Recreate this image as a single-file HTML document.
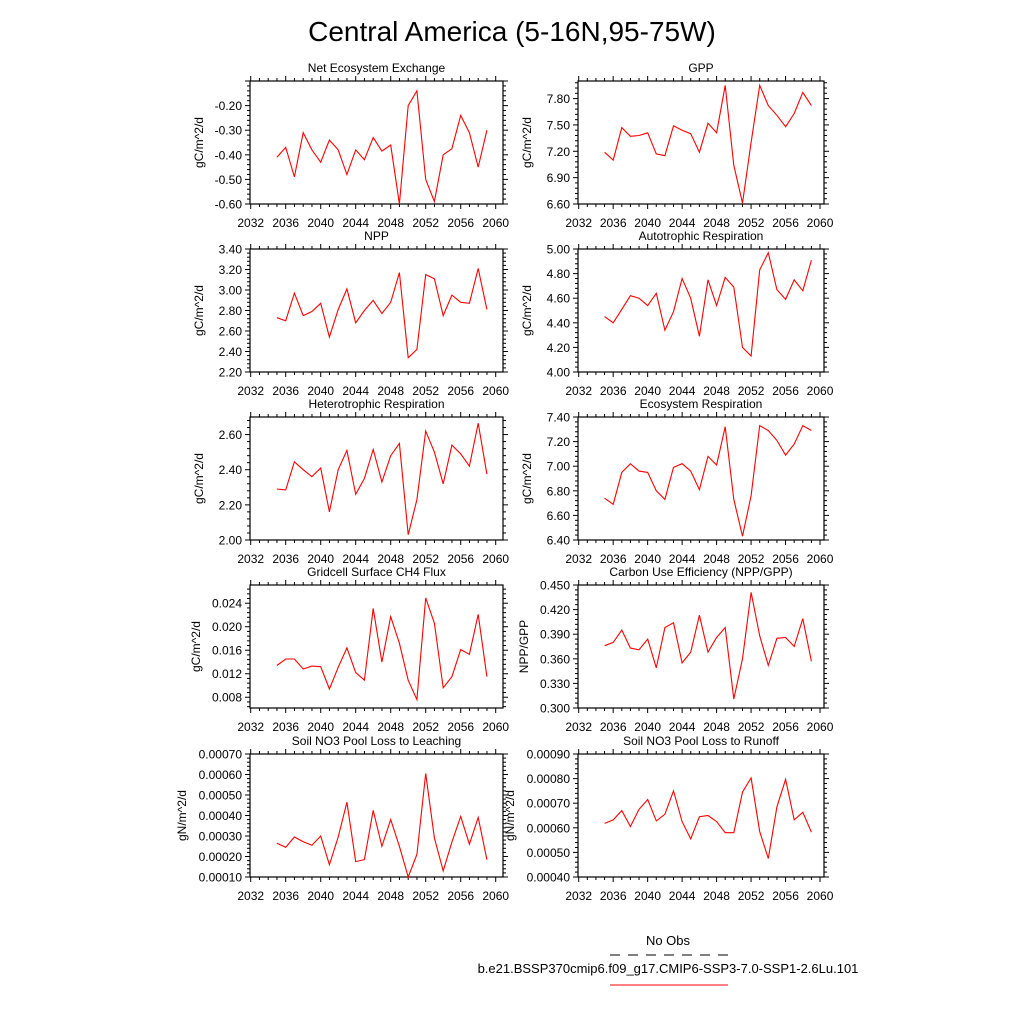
<!DOCTYPE html>
<html><head><meta charset="utf-8"><style>
body{margin:0;background:#fff;}
svg{display:block;font-family:"Liberation Sans",sans-serif;}
</style></head><body>
<svg id="chart" width="1024" height="1024" viewBox="0 0 1024 1024">
<text x="512" y="41" font-size="28" text-anchor="middle">Central America (5-16N,95-75W)</text>
<g>
<text x="668" y="945" font-size="13" text-anchor="middle">No Obs</text>
<line x1="610" y1="955" x2="728" y2="955" stroke="#000" stroke-width="1" stroke-dasharray="10,8"/>
<text x="668" y="973" font-size="13" text-anchor="middle">b.e21.BSSP370cmip6.f09_g17.CMIP6-SSP3-7.0-SSP1-2.6Lu.101</text>
<line x1="610" y1="985" x2="728" y2="985" stroke="#ff0000" stroke-width="1"/>
</g>
</svg>
<script>
const years = [2035,2036,2037,2038,2039,2040,2041,2042,2043,2044,2045,2046,2047,2048,2049,2050,2051,2052,2053,2054,2055,2056,2057,2058,2059];
const xTicks = [2032,2036,2040,2044,2048,2052,2056,2060];
const neeValues = [-0.41,-0.37,-0.49,-0.31,-0.38,-0.43,-0.34,-0.38,-0.48,-0.38,-0.42,-0.33,-0.385,-0.36,-0.60,-0.20,-0.14,-0.50,-0.59,-0.40,-0.375,-0.24,-0.31,-0.45,-0.30];
const gppValues = [7.19,7.10,7.47,7.37,7.38,7.41,7.17,7.15,7.49,7.44,7.40,7.19,7.52,7.41,7.95,7.04,6.61,7.30,7.95,7.72,7.61,7.48,7.63,7.87,7.72];
const nppValues = [2.73,2.70,2.97,2.75,2.79,2.87,2.54,2.81,3.01,2.68,2.80,2.90,2.77,2.88,3.17,2.34,2.42,3.15,3.11,2.75,2.95,2.88,2.87,3.21,2.81];
const arValues = [4.45,4.40,4.51,4.62,4.60,4.54,4.64,4.34,4.49,4.76,4.60,4.29,4.75,4.54,4.77,4.69,4.20,4.13,4.83,4.97,4.67,4.59,4.75,4.66,4.91];
const hrValues = [2.29,2.285,2.445,2.40,2.36,2.41,2.16,2.40,2.51,2.26,2.35,2.515,2.33,2.48,2.55,2.03,2.23,2.62,2.50,2.32,2.54,2.49,2.42,2.665,2.375];
const erValues = [6.74,6.69,6.95,7.02,6.96,6.95,6.80,6.73,6.99,7.02,6.96,6.81,7.08,7.01,7.32,6.73,6.43,6.76,7.33,7.29,7.21,7.09,7.18,7.33,7.29];
const ch4Values = [0.0134,0.0145,0.0145,0.0128,0.0133,0.0132,0.0094,0.0131,0.0164,0.0122,0.0109,0.0231,0.0140,0.0217,0.0172,0.0109,0.0076,0.0249,0.0206,0.0096,0.0115,0.0161,0.0153,0.0221,0.0115];
const cueValues = [0.376,0.380,0.395,0.373,0.371,0.384,0.349,0.398,0.404,0.355,0.368,0.413,0.368,0.386,0.398,0.311,0.360,0.441,0.388,0.352,0.385,0.386,0.375,0.409,0.357];
const leachValues = [0.000265,0.000245,0.000295,0.000272,0.000255,0.000300,0.000160,0.000295,0.000465,0.000175,0.000185,0.000425,0.000250,0.000380,0.000250,0.000100,0.000210,0.000605,0.000290,0.000130,0.000270,0.000395,0.000260,0.000390,0.000185];
const runoffValues = [0.000618,0.000632,0.000670,0.000605,0.000675,0.000715,0.000628,0.000655,0.000750,0.000625,0.000555,0.000645,0.000650,0.000625,0.000580,0.000580,0.000745,0.000803,0.000585,0.000475,0.000685,0.000797,0.000632,0.000663,0.000582];

const NS = 'http://www.w3.org/2000/svg';
const svg = document.getElementById('chart');
function mk(tag, attrs, parent){const e=document.createElementNS(NS,tag);for(const k in attrs)e.setAttribute(k,attrs[k]);parent.appendChild(e);return e;}

const panels = [
 {id:'nee',title:'Net Ecosystem Exchange',yl:'gC/m^2/d',v:neeValues,ymin:-0.6,ymax:-0.1,t0:-0.6,t1:-0.2,step:0.1,dec:2,col:0,row:0},
 {id:'gpp',title:'GPP',yl:'gC/m^2/d',v:gppValues,ymin:6.6,ymax:8.0,t0:6.6,t1:7.8,step:0.3,dec:2,col:1,row:0},
 {id:'npp',title:'NPP',yl:'gC/m^2/d',v:nppValues,ymin:2.2,ymax:3.4,t0:2.2,t1:3.4,step:0.2,dec:2,col:0,row:1},
 {id:'ar',title:'Autotrophic Respiration',yl:'gC/m^2/d',v:arValues,ymin:4.0,ymax:5.0,t0:4.0,t1:5.0,step:0.2,dec:2,col:1,row:1},
 {id:'hr',title:'Heterotrophic Respiration',yl:'gC/m^2/d',v:hrValues,ymin:2.0,ymax:2.7,t0:2.0,t1:2.6,step:0.2,dec:2,col:0,row:2},
 {id:'er',title:'Ecosystem Respiration',yl:'gC/m^2/d',v:erValues,ymin:6.4,ymax:7.4,t0:6.4,t1:7.4,step:0.2,dec:2,col:1,row:2},
 {id:'ch4',title:'Gridcell Surface CH4 Flux',yl:'gC/m^2/d',v:ch4Values,ymin:0.00617,ymax:0.0271,t0:0.008,t1:0.024,step:0.004,dec:3,col:0,row:3},
 {id:'cue',title:'Carbon Use Efficiency (NPP/GPP)',yl:'NPP/GPP',v:cueValues,ymin:0.3,ymax:0.45,t0:0.3,t1:0.45,step:0.03,dec:3,col:1,row:3},
 {id:'leach',title:'Soil NO3 Pool Loss to Leaching',yl:'gN/m^2/d',v:leachValues,ymin:0.0001,ymax:0.0007,t0:0.0001,t1:0.0007,step:0.0001,dec:5,col:0,row:4},
 {id:'runoff',title:'Soil NO3 Pool Loss to Runoff',yl:'gN/m^2/d',v:runoffValues,ymin:0.0004,ymax:0.0009,t0:0.0004,t1:0.0009,step:0.0001,dec:5,col:1,row:4}
];
const tops=[81,249,417,585,754], H=123;
const lefts=[250,578], W=[253,246];

panels.forEach(p=>{
 const L=lefts[p.col], T=tops[p.row], w=W[p.col], B=T+H, R=L+w;
 const x0 = L+0.7;
 const xs = y => x0 + (y-2032)*8.75*(p.col?0.985:1);
 const ys = v => B - (v-p.ymin)/(p.ymax-p.ymin)*H;
 const g = mk('g',{},svg);
 
 
 // minor x ticks
 for(let y=2032;y<=2060;y++){
  const x=xs(y), len=(y%4===0)?5:3;
  mk('line',{x1:x,y1:B,x2:x,y2:B+len,stroke:'#000','stroke-width':1},g);
  mk('line',{x1:x,y1:T,x2:x,y2:T-len,stroke:'#000','stroke-width':1},g);
 }
 xTicks.forEach(y=>{
  const t=mk('text',{x:xs(y),y:B+23,'font-size':12,'text-anchor':'middle'},g);
  t.textContent=y;
  
  
 });
 // y ticks
 const nMaj = Math.round((p.t1-p.t0)/p.step);
 const minorStep = p.step/5;
 for(let k=-10;k<=nMaj*5+10;k++){
  const v=p.t0+k*minorStep;
  if(v<p.ymin-1e-9||v>p.ymax+1e-9) continue;
  const yy=ys(v), len=(k%5===0)?5:3;
  mk('line',{x1:L,y1:yy,x2:L-len,y2:yy,stroke:'#000','stroke-width':1},g);
  mk('line',{x1:R,y1:yy,x2:R+len,y2:yy,stroke:'#000','stroke-width':1},g);
 }
 for(let k=0;k<=nMaj;k++){
  const v=p.t0+k*p.step;
  const t=mk('text',{x:L-8,y:ys(v)+4.5,'font-size':12,'text-anchor':'end'},g);
  t.textContent=v.toFixed(p.dec);
  
  
 }
 const fr=mk('rect',{x:L,y:T,width:w,height:H,fill:'none',stroke:'#000','stroke-width':1.2},g);
 
 
 const ti=mk('text',{x:L+w/2,y:T-9,'font-size':12,'text-anchor':'middle'},g);
 ti.textContent=p.title;
 
 
 const ylx = p.dec===5 ? L-64 : (p.dec===3 ? L-50 : L-47);
 const yl=mk('text',{x:ylx,y:T+H/2,'font-size':12,'text-anchor':'middle',transform:`rotate(-90 ${ylx} ${T+H/2})`},g);
 yl.textContent=p.yl;
 
 
 const pts = p.v.map((v,i)=>xs(years[i]).toFixed(1)+','+ys(v).toFixed(1)).join(' ');
 const pl=mk('polyline',{points:pts,fill:'none',stroke:'#ff0000','stroke-width':1.1},g);
 
 
});
</script>
</body></html>
